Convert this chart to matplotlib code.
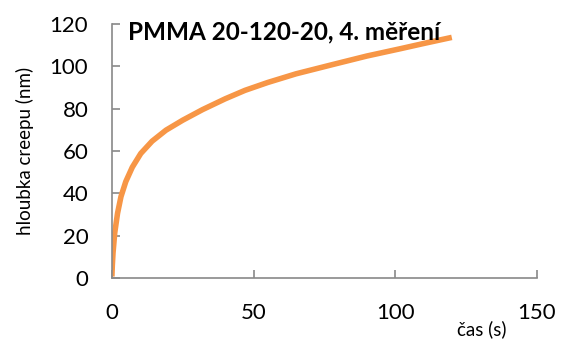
import matplotlib
matplotlib.use("Agg")
import matplotlib.pyplot as plt

# creep depth
time_s = [0, 0.15, 0.4, 1.0, 2.0, 3.2, 4.9, 7.2, 10.2, 14.2, 19.1, 25, 32, 40, 47, 55,
          65, 78.6, 90, 102, 110, 120]
depth_nm = [0.7, 6.0, 11.9, 21.3, 30.6, 38.4, 45.5, 52.3, 58.8, 64.6, 69.8, 74.5, 79.5, 84.6, 88.6, 92.3,
            96.4, 101.0, 104.8, 108.3, 110.7, 113.6]

xticks = [0, 50, 100, 150]
yticks = [0, 20, 40, 60, 80, 100, 120]

plt.rcParams['font.family'] = ['Lato', 'DejaVu Sans']

fig = plt.figure(figsize=(5.68, 3.43), dpi=100)
ax = fig.add_axes([0.197, 0.1895, 0.748, 0.741])

ax.plot(time_s, depth_nm, color="#F79646", linewidth=4, solid_capstyle="butt", solid_joinstyle="round")

ax.set_xlim(0, 150)
ax.set_ylim(0, 120)
ax.set_xticks(xticks)
ax.set_yticks(yticks)

for side in ["top", "right"]:
    ax.spines[side].set_visible(False)
for side in ["left", "bottom"]:
    ax.spines[side].set_color("#898989")
    ax.spines[side].set_linewidth(1.2)
ax.tick_params(direction="in", length=6, width=1.2, color="#898989", labelsize=16, labelcolor="black")
ax.tick_params(axis="y", pad=17)
ax.tick_params(axis="x", pad=18)

ax.set_ylabel("hloubka creepu (nm)", fontsize=13.5, labelpad=11)
ax.text(0.929, -0.2, "čas (s)", transform=ax.transAxes, ha="right", va="center", fontsize=13.5)
ax.text(0.038, 0.97, "PMMA 20-120-20, 4. měření", transform=ax.transAxes, ha="left", va="center",
        fontsize=17.5, fontweight="bold")

fig.savefig("out.png", dpi=100)
